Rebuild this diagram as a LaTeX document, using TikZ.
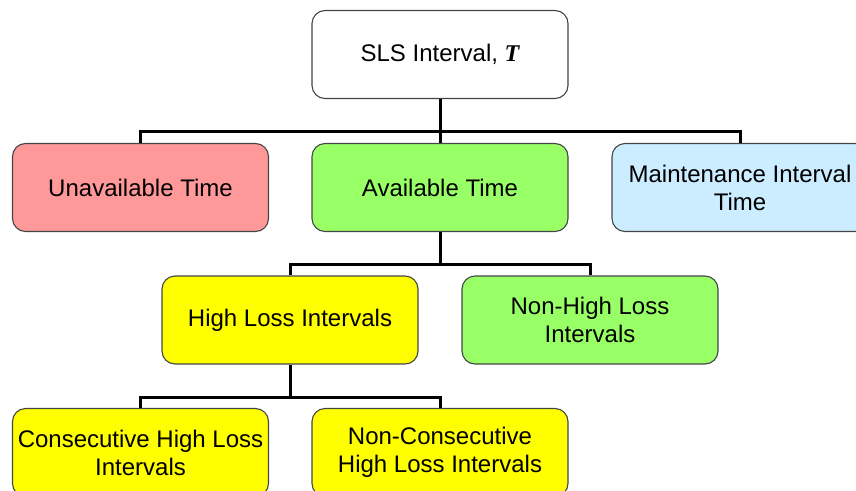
\documentclass[tikz,border=0pt]{standalone}
\usepackage{fontspec}
\setmainfont{Liberation Sans}
\newfontfamily\tfont{Liberation Serif}
\definecolor{cpink}{HTML}{FF9999}
\definecolor{cgreen}{HTML}{99FF66}
\definecolor{cblue}{HTML}{CCECFF}
\definecolor{cyellow}{HTML}{FFFF00}
\definecolor{cborder}{HTML}{454545}
\begin{document}
\begin{tikzpicture}[x=1pt,y=-1pt,
  box/.style={draw=cborder, line width=1.1pt, rounded corners=13pt, rectangle,
    minimum width=256pt, minimum height=88pt, align=center, inner sep=2pt,
    font=\fontsize{24}{28}\selectfont},
  conn/.style={draw=black, line width=3pt}]
\useasboundingbox (0,0) rectangle (856,490);
\clip (0,0) rectangle (856,490);
\node[box, fill=white] (sls) at (440,54.5) {SLS Interval, {\tfont\bfseries\itshape T}};
\node[box, fill=cpink] (ua) at (140.5,187.5) {Unavailable Time};
\node[box, fill=cgreen] (av) at (440,187.5) {Available Time};
\node[box, fill=cblue] (ma) at (740,187.5) {Maintenance Interval\\Time};
\node[box, fill=cyellow] (hl) at (290,320) {High Loss Intervals};
\node[box, fill=cgreen] (nh) at (590,320) {Non-High Loss\\Intervals};
\node[box, fill=cyellow] (ch) at (140.5,452.5) {Consecutive High Loss\\Intervals};
\node[box, fill=cyellow] (nc) at (440,452.5) {Non-Consecutive\\High Loss Intervals};
\coordinate (j1) at (440,131);
\coordinate (j2) at (440,264);
\coordinate (j3) at (290,397);
\draw[conn] (sls.south) -- (j1);
\draw[conn] (ua.north) |- (j1) -| (ma.north);
\draw[conn] (j1) -- (av.north);
\draw[conn] (av.south) -- (j2);
\draw[conn] (hl.north) |- (j2) -| (nh.north);
\draw[conn] (hl.south) -- (j3);
\draw[conn] (ch.north) |- (j3) -| (nc.north);
\end{tikzpicture}
\end{document}
